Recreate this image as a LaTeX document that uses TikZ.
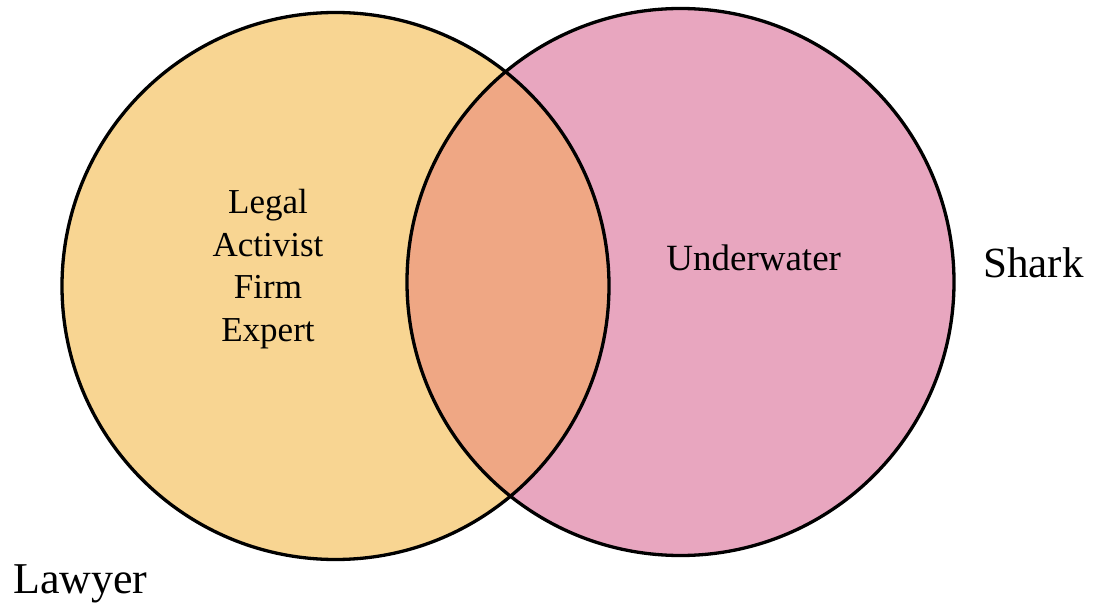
\documentclass[tikz,border=0pt]{standalone}
\usepackage{fontspec}
\setmainfont{Liberation Serif}
\definecolor{lawyerfill}{HTML}{F8D592}
\definecolor{sharkfill}{HTML}{E8A6BF}
\definecolor{bothfill}{HTML}{EFA784}
\begin{document}
\begin{tikzpicture}[x=1pt,y=-1pt,
  setcircle/.style={circle,inner sep=0pt,minimum size=547pt},
  outline/.style={draw=black,line width=3.3pt},
  label/.style={inner sep=0pt,anchor=base}]
\useasboundingbox (0,0) rectangle (1096,604);
% the two sets
\node[setcircle,fill=lawyerfill] (lawyer) at (335.5,286) {};
\node[setcircle,fill=sharkfill] (shark) at (680.5,282) {};
% their intersection
\begin{scope}
  \clip (335.5,286) circle (273.5);
  \fill[bothfill] (680.5,282) circle (273.5);
\end{scope}
% outlines on top
\node[setcircle,outline] at (lawyer) {};
\node[setcircle,outline] at (shark) {};
% texts
\node[inner sep=0pt,anchor=north,align=center,font=\fontsize{35}{42.5}\selectfont]
  (lawyeronly) at (268,189.4) {Legal\\Activist\\Firm\\Expert};
\node[label,font=\fontsize{37}{44}\selectfont] (sharkonly) at (753.7,271) {Underwater};
\node[label,anchor=base west,font=\fontsize{44}{52}\selectfont] (lawyername) at (13,593) {Lawyer};
\node[label,anchor=base west,font=\fontsize{43}{52}\selectfont] (sharkname) at (983,277.7) {Shark};
\end{tikzpicture}
\end{document}
